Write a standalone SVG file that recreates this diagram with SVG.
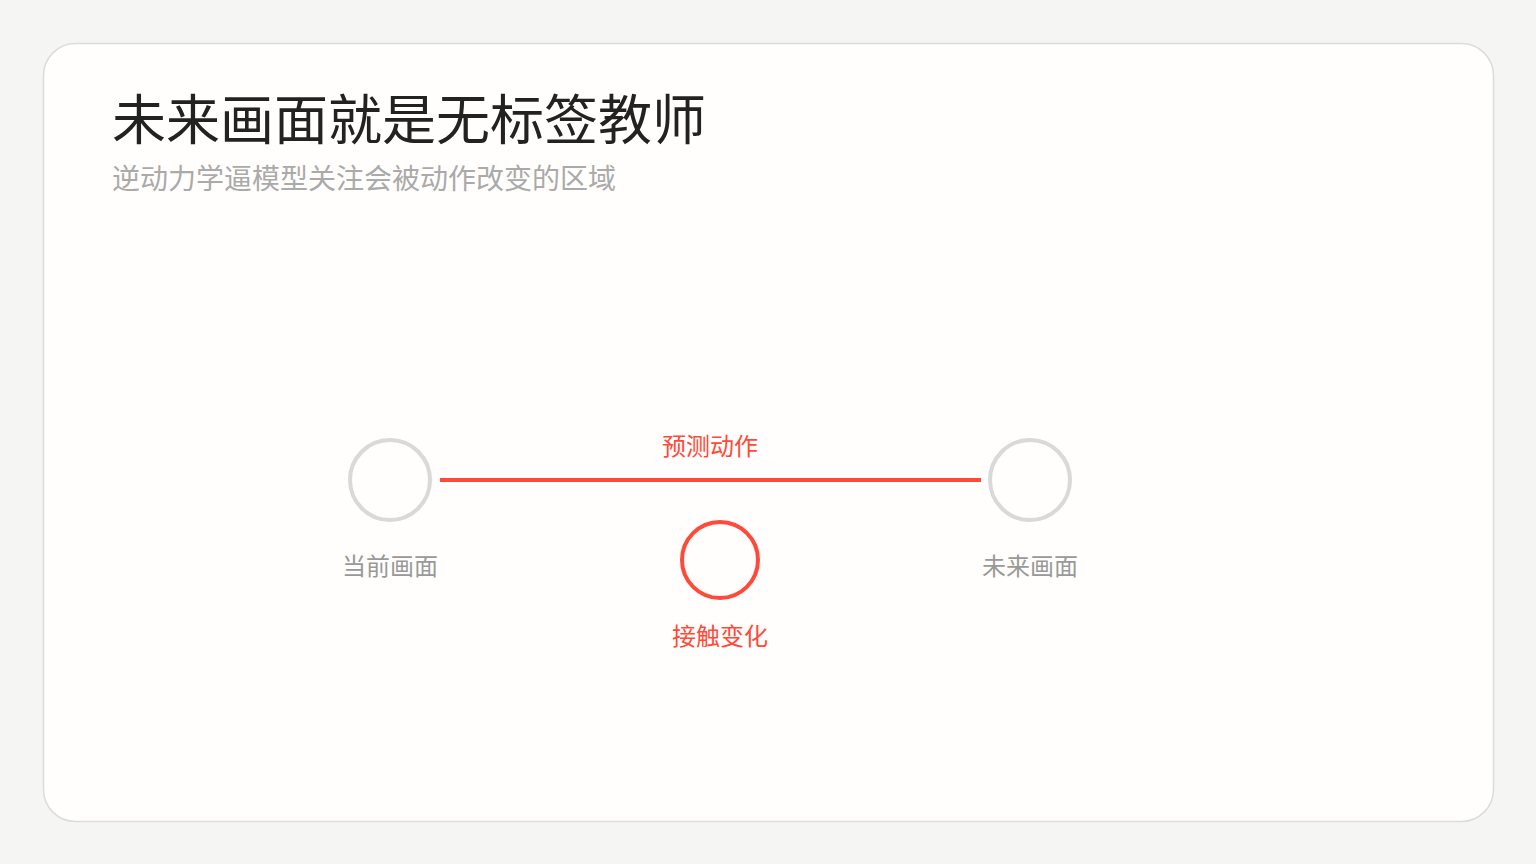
<svg xmlns="http://www.w3.org/2000/svg" width="1536" height="864" viewBox="0 0 1536 864">
<style>
text{font-family:"Noto Sans CJK SC","Noto Sans",sans-serif}
.title{font-size:54px;fill:#222}
.sub{font-size:28px;fill:#aaaaaa}
.lbl{font-size:24px;fill:#999999;text-anchor:middle}
.red{fill:#ff4a3a}
.node{fill:none;stroke:#d9d9d9;stroke-width:4}
.hot{fill:none;stroke:#ff4a3a;stroke-width:4}
.edge{stroke:#ff4a3a;stroke-width:4}
</style>
<rect width="1536" height="864" fill="#f5f5f3"/>
<rect x="43.5" y="43.5" width="1450" height="778" rx="32" fill="#fffefc" stroke="#dcdcdc" stroke-width="1.5"/>
<text class="title" x="112" y="140">未来画面就是无标签教师</text>
<text class="sub" x="112" y="189">逆动力学逼模型关注会被动作改变的区域</text>
<g id="connectors">
<line class="edge" x1="440" y1="480" x2="981" y2="480"/>
<text class="lbl red" x="710" y="455">预测动作</text>
</g>
<g id="node-current">
<circle class="node" cx="390" cy="480" r="40"/>
<text class="lbl" x="390" y="575">当前画面</text>
</g>
<g id="node-future">
<circle class="node" cx="1030" cy="480" r="40"/>
<text class="lbl" x="1030" y="575">未来画面</text>
</g>
<g id="node-contact">
<circle class="hot" cx="720" cy="560" r="38"/>
<text class="lbl red" x="720" y="645">接触变化</text>
</g>
</svg>
